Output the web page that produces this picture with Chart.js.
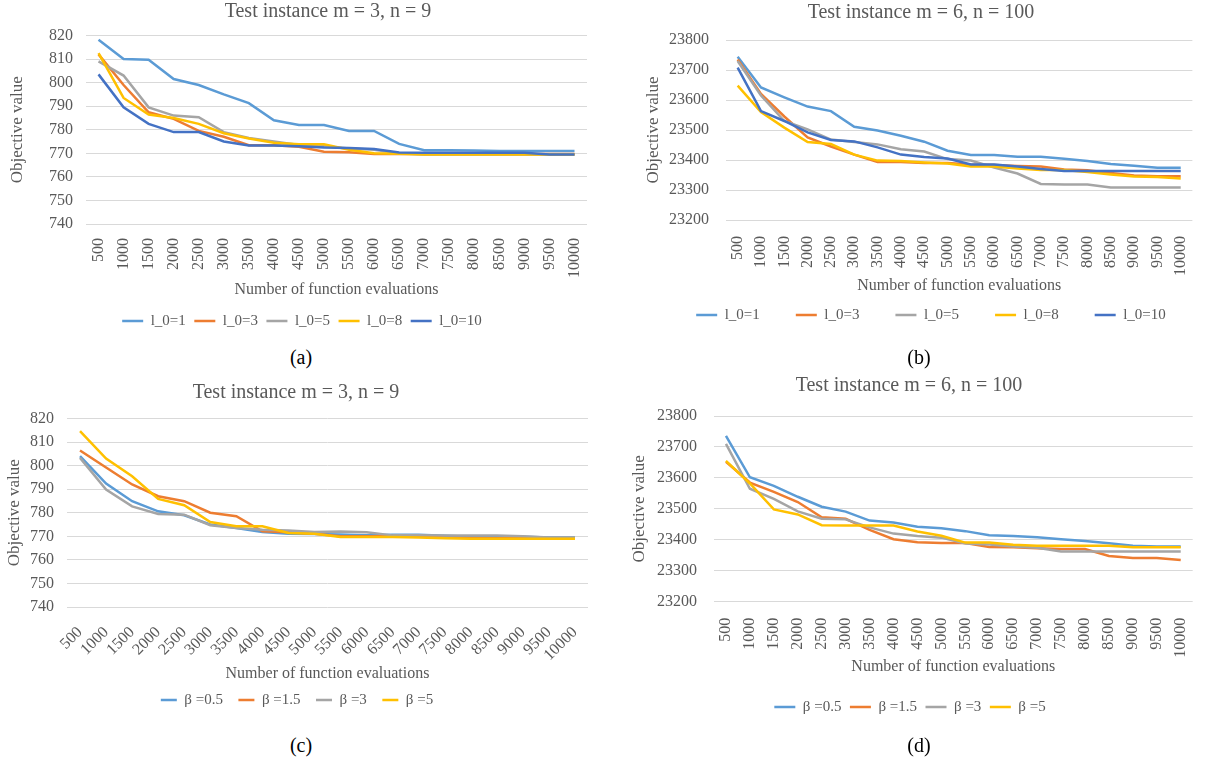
<!DOCTYPE html>
<html><head><meta charset="utf-8">
<script src="https://cdn.jsdelivr.net/npm/chart.js@4"></script>
<style>
html,body{margin:0;padding:0;background:#fff;}
body{width:1208px;height:758px;position:relative;overflow:hidden;}
canvas{position:absolute;}
.cap{position:absolute;font-family:'Liberation Serif',serif;font-size:20px;color:#000;transform:translate(-50%,-50%);white-space:nowrap;}
</style></head><body>
<canvas id="ca" width="600" height="345" style="left:0px;top:0px"></canvas>
<canvas id="cb" width="578" height="372" style="left:630px;top:0px"></canvas>
<canvas id="cc" width="600" height="350" style="left:0px;top:375px"></canvas>
<canvas id="cd" width="593" height="360" style="left:615px;top:365px"></canvas>
<div class="cap" style="left:301px;top:357px">(a)</div>
<div class="cap" style="left:919px;top:357px">(b)</div>
<div class="cap" style="left:301px;top:745px">(c)</div>
<div class="cap" style="left:919px;top:745px">(d)</div>
<script>
// ---- data ----
const evaluations = ['500','1000','1500','2000','2500','3000','3500','4000','4500','5000','5500','6000','6500','7000','7500','8000','8500','9000','9500','10000'];
const titleSmall = 'Test instance m = 3, n = 9';
const titleLarge = 'Test instance m = 6, n = 100';
const xTitle = 'Number of function evaluations';
const yTitle = 'Objective value';

const labelsL0 = ['l_0=1','l_0=3','l_0=5','l_0=8','l_0=10'];
const labelsBeta = ['β =0.5','β =1.5','β =3','β =5'];

// (a) m=3, n=9, varying l_0
const a_l0_1  = [818.2,810,809.7,801.5,799,795,791.3,784,782,782,779.5,779.5,774,771.3,771.3,771.2,771,771,771,771];
const a_l0_3  = [812,799,787.4,784.6,779.5,777,773.4,773.4,772.8,770.7,770.4,769.7,769.7,769.7,769.7,769.7,769.7,769.7,769.7,769.7];
const a_l0_5  = [809,803,789.5,786,785.3,779,776.5,775,773.5,773,772,771.5,770,769.5,769.5,769.5,769.5,769.5,769.5,769.5];
const a_l0_8  = [812.5,793.5,786.5,785,782.5,778.5,776.3,774.5,773.8,773.8,771.5,770,769.8,769.5,769.5,769.5,769.5,769.5,769.5,769.5];
const a_l0_10 = [803.5,789.5,782.5,779,779,775,773.3,773.3,773,772.5,772.3,771.8,770.3,770.2,770.2,770.2,770.2,770.2,769.5,769.5];

// (b) m=6, n=100, varying l_0
const b_l0_1  = [23744,23642,23609,23578,23563,23511,23498,23481,23461,23431,23417,23417,23411,23411,23404,23397,23387,23381,23374,23374];
const b_l0_3  = [23735,23620,23545,23475,23445,23418,23393,23393,23390,23390,23385,23383,23380,23378,23368,23366,23357,23348,23346,23346];
const b_l0_5  = [23730,23615,23530,23502,23468,23460,23452,23436,23428,23403,23398,23375,23355,23320,23318,23318,23308,23308,23308,23308];
const b_l0_8  = [23648,23560,23508,23460,23453,23418,23398,23397,23392,23388,23378,23378,23372,23367,23367,23360,23352,23345,23343,23338];
const b_l0_10 = [23708,23563,23530,23492,23467,23462,23442,23418,23410,23405,23385,23385,23378,23370,23363,23363,23363,23363,23363,23363];

// (c) m=3, n=9, varying beta
const c_b05 = [804,792.4,784.9,780.6,778.9,775,773.5,771.8,771.1,771,770.8,770.5,770.7,770.7,770.2,769.8,769.8,769.8,769.5,769.5];
const c_b15 = [806.4,799.2,792,787,784.9,780,778.5,772.1,771.7,771.1,770,770,770,770,769.5,769.3,769.2,769.2,769,769];
const c_b3  = [803.3,789.8,782.7,779.5,779.2,774.7,773.5,772.8,772.5,771.8,772,771.7,770.4,770.4,770.3,770.3,770.3,770,769.5,769.5];
const c_b5  = [814.6,803,795.5,785.9,783.2,776.1,774.3,774.3,771.4,771.1,769.7,769.7,769.7,769.5,769.2,769,769,769,769,769];

// (d) m=6, n=100, varying beta
const d_b05 = [23736,23602,23574,23539,23507,23491,23462,23456,23442,23437,23428,23415,23412,23408,23402,23396,23389,23381,23378,23378];
const d_b15 = [23652,23585,23555,23522,23473,23468,23432,23402,23392,23390,23390,23377,23376,23373,23370,23370,23348,23341,23341,23335];
const d_b3  = [23710,23565,23532,23492,23468,23466,23440,23420,23412,23407,23388,23385,23378,23374,23362,23362,23362,23362,23362,23362];
const d_b5  = [23655,23582,23498,23482,23447,23446,23446,23446,23427,23413,23391,23391,23384,23381,23381,23381,23381,23376,23376,23376];

const colors = ['#5B9BD5','#ED7D31','#A5A5A5','#FFC000','#4472C4'];
const FONT = "'Liberation Serif', 'Times New Roman', serif";
const TXT = '#595959';
const GRID = '#D9D9D9';

const placePlugin = {
  id: 'place',
  afterLayout(chart, args, o) {
    const t = chart.titleBlock;
    if (t && o.titleX != null) { const dx = o.titleX - (t.left + t.right) / 2; t.left += dx; t.right += dx; }
    const lg = chart.legend;
    if (lg && o.legendX != null) {
      const dx = o.legendX - (lg.left + lg.right) / 2; lg.left += dx; lg.right += dx;
      const dy = o.legendY - (lg.top + o.legendPad + o.legendFont / 2); lg.top += dy; lg.bottom += dy;
    }
  }
};

function makeChart(id, cfg) {
  const n = cfg.series.length;
  const datasets = cfg.series.map((d, i) => ({
    label: cfg.labels[i], data: d, borderColor: colors[i], backgroundColor: colors[i],
    borderWidth: 2.5, pointRadius: 0, pointHoverRadius: 0, tension: 0, order: n - 1 - i
  }));
  return new Chart(document.getElementById(id), {
    type: 'line',
    data: { labels: evaluations, datasets },
    plugins: [placePlugin],
    options: {
      responsive: false, animation: false, devicePixelRatio: 1,
      layout: { padding: { left: 0, right: cfg.padRight, top: 0, bottom: 0 } },
      plugins: {
        title: { display: true, text: cfg.title, color: TXT, font: { family: FONT, size: 20, weight: 'normal' },
                 padding: { top: cfg.titlePad[0], bottom: cfg.titlePad[1] } },
        legend: { position: 'bottom',
          labels: { usePointStyle: true, pointStyle: 'line', pointStyleWidth: cfg.legW, color: TXT,
                    font: { family: FONT, size: 15 }, padding: cfg.legPad,
                    sort: (a, b) => a.datasetIndex - b.datasetIndex } },
        tooltip: { enabled: false },
        place: { titleX: cfg.titleX, legendX: cfg.legX, legendY: cfg.legY, legendPad: cfg.legPad, legendFont: 15 }
      },
      scales: {
        x: {
          offset: true,
          grid: { display: false }, border: { display: false },
          ticks: { autoSkip: false, minRotation: cfg.rot, maxRotation: cfg.rot, color: TXT,
                   font: { family: FONT, size: 16 }, padding: cfg.xTickPad },
          title: { display: true, text: xTitle, color: TXT, font: { family: FONT, size: 16 },
                   padding: { top: 0, bottom: cfg.xTitlePad } },
          afterFit: s => { s.height = cfg.xH; }
        },
        y: {
          min: cfg.ymin, max: cfg.ymax,
          ticks: { stepSize: cfg.ystep, color: TXT, font: { family: FONT, size: 16 }, padding: cfg.yTickPad,
                   callback: v => String(v) },
          grid: { color: GRID, lineWidth: 1, drawTicks: false }, border: { display: false },
          title: { display: true, text: yTitle, color: TXT, font: { family: FONT, size: 17 },
                   padding: { top: cfg.yTitlePad, bottom: 0 } },
          afterFit: s => { s.width = cfg.yW; }
        }
      }
    }
  });
}

makeChart('ca', { title: titleSmall, labels: labelsL0, series: [a_l0_1, a_l0_3, a_l0_5, a_l0_8, a_l0_10],
  ymin: 740, ymax: 820, ystep: 10, padRight: 12, titlePad: [0, 11.5], titleX: 328,
  yW: 86, yTitlePad: 7.8, yTickPad: 13, rot: 90, xTickPad: 6, xH: 87.5, xTitlePad: 11.9,
  legW: 21, legPad: 8.5, legX: 302, legY: 321 });

makeChart('cb', { title: titleLarge, labels: labelsL0, series: [b_l0_1, b_l0_3, b_l0_5, b_l0_8, b_l0_10],
  ymin: 23200, ymax: 23800, ystep: 100, padRight: 3, titlePad: [1, 15], titleX: 291,
  yW: 96, yTitlePad: 13.8, yTickPad: 17, rot: 90, xTickPad: 8, xH: 91, xTitlePad: 15.9,
  legW: 21, legPad: 36, legX: 301, legY: 315 });

makeChart('cc', { title: titleSmall, labels: labelsBeta, series: [c_b05, c_b15, c_b3, c_b5],
  ymin: 740, ymax: 820, ystep: 10, padRight: 12, titlePad: [6, 13.5], titleX: 296,
  yW: 67, yTitlePad: 4.8, yTickPad: 13, rot: 45, xTickPad: 8, xH: 77.5, xTitlePad: 1,
  legW: 16, legPad: 15.5, legX: 297, legY: 325 });

makeChart('cd', { title: titleLarge, labels: labelsBeta, series: [d_b05, d_b15, d_b3, d_b5],
  ymin: 23200, ymax: 23800, ystep: 100, padRight: 3, titlePad: [9, 18], titleX: 294,
  yW: 99, yTitlePad: 14.8, yTickPad: 17, rot: 90, xTickPad: 8, xH: 89.8, xTitlePad: 14.9,
  legW: 21, legPad: 8.5, legX: 295, legY: 342 });
</script>
</body></html>
